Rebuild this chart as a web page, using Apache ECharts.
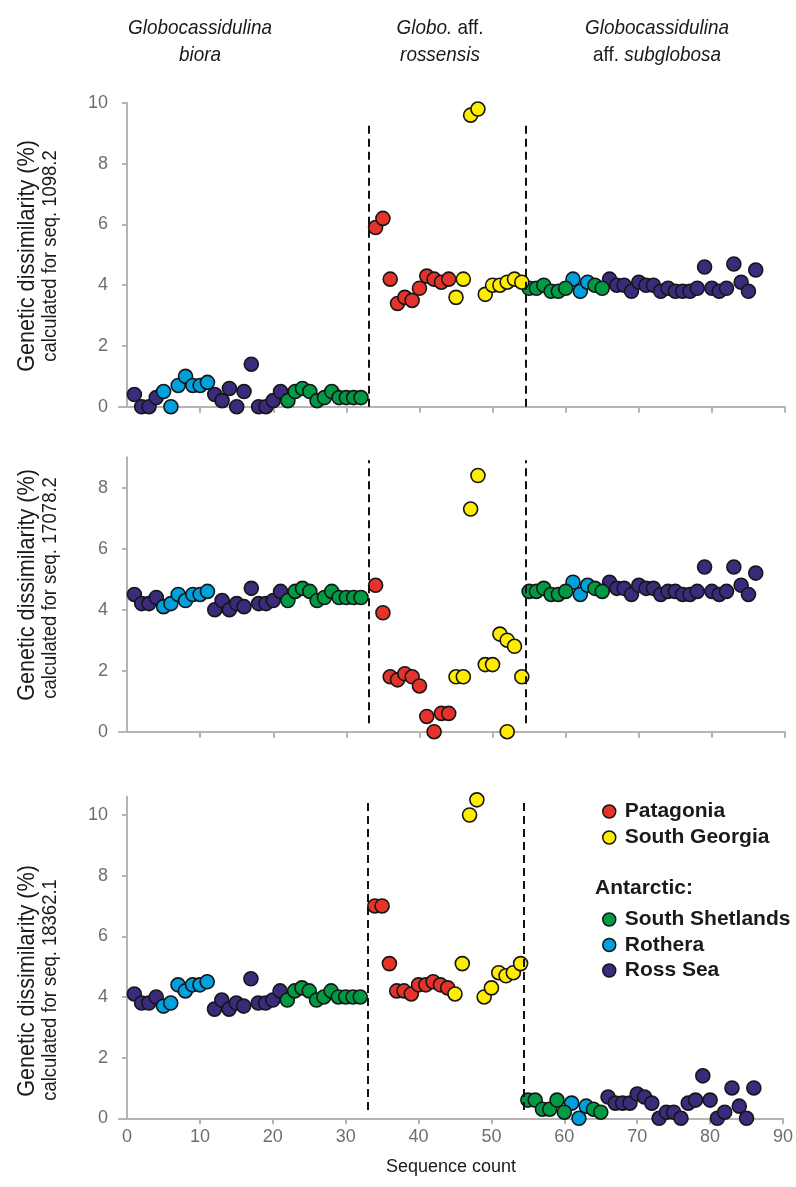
<!DOCTYPE html>
<html>
<head>
<meta charset="utf-8">
<script src="https://cdn.jsdelivr.net/npm/echarts@6/dist/echarts.min.js"></script>
<style>
html,body{margin:0;padding:0;background:#ffffff;}
#chart{width:796px;height:1187px;}
</style>
</head>
<body>
<div id="chart"></div>
<script>
// ---------- DATA ----------
// Sequence count (x) of every sequence, in plotting order
const seqCount = [
  1,2,3,4,5,6,7,8,9,10,11,12,13,14,15,16,17,18,19,20,21,22,23,24,25,26,27,28,29,30,31,32,
  34,35,36,37,38,39,40,41,42,43,44,45,46,47,48,49,50,51,52,53,54,
  55,56,57,58,59,60,61,62,63,64,65,66,67,68,69,70,71,72,73,74,75,76,77,78,79,80,81,82,83,84,85,86
];
// Sampling region of every sequence
const region = [
  'RS','RS','RS','RS','RO','RO','RO','RO','RO','RO','RO',
  'RS','RS','RS','RS','RS','RS','RS','RS','RS','RS',
  'SS','SS','SS','SS','SS','SS','SS','SS','SS','SS','SS',
  'PA','PA','PA','PA','PA','PA','PA','PA','PA','PA','PA',
  'SG','SG','SG','SG','SG','SG','SG','SG','SG','SG',
  'SS','SS','SS','SS','SS','SS','RO','RO','RO','SS','SS',
  'RS','RS','RS','RS','RS','RS','RS','RS','RS','RS','RS','RS','RS','RS','RS','RS','RS','RS','RS','RS','RS'
];
// Genetic dissimilarity (%) calculated for seq. 1098.2
const seq1098_2 = [
  0.4,0,0,0.3, 0.5,0,0.7,1.0,0.7,0.7,0.8, 0.4,0.2,0.6,0,0.5,1.4,0,0,0.2,0.5,
  0.2,0.5,0.6,0.5,0.2,0.3,0.5,0.3,0.3,0.3,0.3,
  5.9,6.2,4.2,3.4,3.6,3.5,3.9,4.3,4.2,4.1,4.2,
  3.6,4.2,9.6,9.8,3.7,4.0,4.0,4.1,4.2,4.1,
  3.9,3.9,4.0,3.8,3.8,3.9, 4.2,3.8,4.1, 4.0,3.9,
  4.2,4.0,4.0,3.8,4.1,4.0,4.0,3.8,3.9,3.8,3.8,3.8,3.9,4.6,3.9,3.8,3.9,4.7,4.1,3.8,4.5
];
// Genetic dissimilarity (%) calculated for seq. 17078.2
const seq17078_2 = [
  4.5,4.2,4.2,4.4, 4.1,4.2,4.5,4.3,4.5,4.5,4.6, 4.0,4.3,4.0,4.2,4.1,4.7,4.2,4.2,4.3,4.6,
  4.3,4.6,4.7,4.6,4.3,4.4,4.6,4.4,4.4,4.4,4.4,
  4.8,3.9,1.8,1.7,1.9,1.8,1.5,0.5,0,0.6,0.6,
  1.8,1.8,7.3,8.4,2.2,2.2,3.2,3.0,2.8,1.8,
  4.6,4.6,4.7,4.5,4.5,4.6, 4.9,4.5,4.8, 4.7,4.6,
  4.9,4.7,4.7,4.5,4.8,4.7,4.7,4.5,4.6,4.6,4.5,4.5,4.6,5.4,4.6,4.5,4.6,5.4,4.8,4.5,5.2
];
// the reference sequence 17078.2 itself (South Georgia)
const self17078Count = [52];
const self17078Value = [0];
const self17078Region = ['SG'];
// Genetic dissimilarity (%) calculated for seq. 18362.1
const seq18362_1 = [
  4.1,3.8,3.8,4.0, 3.7,3.8,4.4,4.2,4.4,4.4,4.5, 3.6,3.9,3.6,3.8,3.7,4.6,3.8,3.8,3.9,4.2,
  3.9,4.2,4.3,4.2,3.9,4.0,4.2,4.0,4.0,4.0,4.0,
  7.0,7.0,5.1,4.2,4.2,4.1,4.4,4.4,4.5,4.4,4.3,
  4.1,5.1,10.0,10.5,4.0,4.3,4.8,4.7,4.8,5.1,
  0.6,0.6,0.3,0.3,0.6,0.2, 0.5,0,0.4, 0.3,0.2,
  0.7,0.5,0.5,0.5,0.8,0.7,0.5,0,0.2,0.2,0,0.5,0.6,1.4,0.6,0,0.2,1.0,0.4,0,1.0
];
// boundaries between the three species groups (sequence count)
const groupBoundaries = [33, 54.5];
// tick labels
const xTickLabels = [0,10,20,30,40,50,60,70,80,90];
const xTickMarks = [10,20,30,40,50,60,70,80,90];
const yTicksTop = [0,2,4,6,8,10];
const yTicksMid = [0,2,4,6,8];
const yTicksBot = [0,2,4,6,8,10];
// species group headers
const groupTitles = [
  ['{i|Globocassidulina}', '{i|biora}'],
  ['{i|Globo.} aff.', '{i|rossensis}'],
  ['{i|Globocassidulina}', 'aff. {i|subglobosa}']
];
const refSeqs = ['calculated for seq. 1098.2', 'calculated for seq. 17078.2', 'calculated for seq. 18362.1'];
const regionNames = {PA:'Patagonia', SG:'South Georgia', SS:'South Shetlands', RO:'Rothera', RS:'Ross Sea'};

// ---------- STYLE / LAYOUT ----------
const colors = {PA:'#E5332A', SG:'#FFED00', SS:'#009A44', RO:'#00A0DD', RS:'#3C2A7C'};
const FONT = 'Liberation Sans, Arial, Helvetica, sans-serif';
const axisGray = '#b4b4b4';
const labelGray = '#6e6e6e';
const panels = [
  {top:103,   height:303.7, yMax:10,   ticks:yTicksTop, values:seq1098_2,  dash:[0, 9.33],    ylab:[256, 256]},
  {top:457.2, height:274.5, yMax:9,    ticks:yTicksMid, values:seq17078_2, dash:[0.28, 8.9],  ylab:[585, 588]},
  {top:796.8, height:321.5, yMax:10.6, ticks:yTicksBot, values:seq18362_1, dash:[0.27, 10.5], ylab:[981, 990]}
];
const regionOrder = ['RS','RO','SS','PA','SG'];
const titleX = [200, 440, 657];

const grid = [], xAxis = [], yAxis = [], series = [];
panels.forEach((p, k) => {
  grid.push({left:119, width:666, top:p.top, height:p.height});
  xAxis.push({
    type:'value', gridIndex:k, min:-1.1, max:90,
    axisLine:{show:true, onZero:false, lineStyle:{color:axisGray, width:2}},
    axisTick:{show:true, length:6, customValues:xTickMarks, lineStyle:{color:axisGray, width:2}},
    axisLabel:{show:k===2, customValues:xTickLabels, color:labelGray, fontSize:18, fontFamily:FONT, margin:10},
    splitLine:{show:false},
    name: k===2 ? 'Sequence count' : '',
    nameLocation:'middle', nameGap:40,
    nameTextStyle:{color:'#1a1a1a', fontSize:18, fontFamily:FONT}
  });
  yAxis.push({
    type:'value', gridIndex:k, min:0, max:p.yMax,
    axisLine:{show:true, lineStyle:{color:axisGray, width:2}},
    axisTick:{show:true, length:5, customValues:p.ticks, lineStyle:{color:axisGray, width:2}},
    axisLabel:{customValues:p.ticks, color:labelGray, fontSize:18, fontFamily:FONT, margin:11},
    splitLine:{show:false}
  });
  regionOrder.forEach((r, j) => {
    const data = [];
    seqCount.forEach((c, i) => { if (region[i] === r) data.push([c, p.values[i]]); });
    if (k === 1) self17078Count.forEach((c, i) => { if (self17078Region[i] === r) data.push([c, self17078Value[i]]); });
    const s = {
      type:'scatter', name:regionNames[r], xAxisIndex:k, yAxisIndex:k,
      data, symbol:'circle', symbolSize:14,
      itemStyle:{color:colors[r], borderColor:'#161616', borderWidth:1.6, opacity:1},
      emphasis:{disabled:true}, animation:false, silent:true, clip:false
    };
    if (j === regionOrder.length - 1) {
      s.markLine = {
        silent:true, symbol:['none','none'], animation:false,
        label:{show:false},
        lineStyle:{color:'#111', width:2, type:[8,5]},
        emphasis:{disabled:true},
        data: groupBoundaries.map(b => [{coord:[b, p.dash[0]]}, {coord:[b, p.dash[1]]}])
      };
    }
    series.push(s);
  });
});

const graphic = [];
groupTitles.forEach((t, g) => {
  t.forEach((line, li) => {
    graphic.push({
      type:'text', x:titleX[g], y: li === 0 ? 28 : 55, scaleX:0.9,
      style:{
        text:line, align:'center', verticalAlign:'middle',
        fill:'#1a1a1a', font:'21px ' + FONT,
        rich:{i:{fontStyle:'italic', fontSize:21, fontFamily:FONT, fill:'#1a1a1a'}}
      }
    });
  });
});
panels.forEach((p, k) => {
  graphic.push({type:'text', x:27, y:p.ylab[0], rotation:Math.PI/2, scaleX:0.9,
    style:{text:'Genetic dissimilarity (%)', align:'center', verticalAlign:'middle', fill:'#1a1a1a', font:'24px ' + FONT}});
  graphic.push({type:'text', x:50, y:p.ylab[1], rotation:Math.PI/2, scaleX:0.9,
    style:{text:refSeqs[k], align:'center', verticalAlign:'middle', fill:'#1a1a1a', font:'20.5px ' + FONT}});
});
graphic.push({type:'text', x:595, y:888,
  style:{text:'Antarctic:', align:'left', verticalAlign:'middle', fill:'#1a1a1a', font:'bold 21px ' + FONT}});

const legendCommon = {
  orient:'vertical', left:597, icon:'circle', itemWidth:13, itemHeight:13, itemGap:5,
  selectedMode:false,
  itemStyle:{borderColor:'#161616', borderWidth:1.5},
  textStyle:{color:'#1a1a1a', fontSize:21, fontWeight:'bold', fontFamily:FONT, padding:[0,0,0,4]}
};

const option = {
  backgroundColor:'#ffffff',
  animation:false,
  grid, xAxis, yAxis, series, graphic,
  legend:[
    Object.assign({}, legendCommon, {top:796, data:['Patagonia','South Georgia']}),
    Object.assign({}, legendCommon, {top:904, itemGap:4.5, data:['South Shetlands','Rothera','Ross Sea']})
  ]
};
const chart = echarts.init(document.getElementById('chart'), null, {renderer:'canvas'});
chart.setOption(option);
</script>
</body>
</html>
